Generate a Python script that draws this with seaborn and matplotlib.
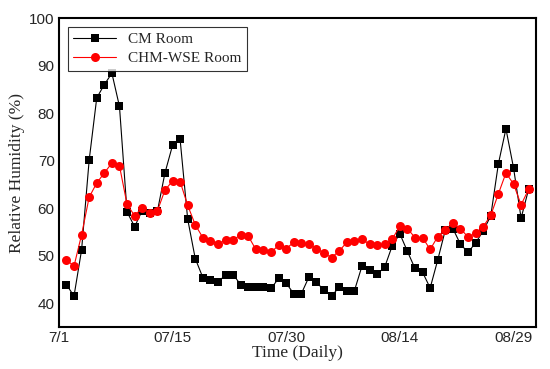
import numpy as np
import pandas as pd
import matplotlib
matplotlib.use("Agg")
import matplotlib.pyplot as plt
import seaborn as sns
from matplotlib.ticker import MultipleLocator

days = list(range(1, 63))
cm_room = [43.9, 41.5, 51.2, 70.1, 83.2, 86.0, 88.4, 81.4, 59.2, 56.1,
           59.5, 59.0, 59.3, 67.4, 73.2, 74.5, 57.7, 49.4, 45.4, 44.9,
           44.4, 46.0, 46.0, 43.9, 43.4, 43.4, 43.3, 43.1, 45.2, 44.2,
           42.0, 42.0, 45.5, 44.4, 42.7, 41.5, 43.4, 42.6, 42.6, 47.8,
           47.0, 46.1, 47.6, 52.1, 54.6, 50.9, 47.3, 46.5, 43.2, 49.1,
           55.4, 55.7, 52.4, 50.7, 52.7, 55.2, 58.4, 69.3, 76.7, 68.5,
           57.9, 64.0]
chm_room = [49.1, 47.8, 54.4, 62.3, 65.3, 67.4, 69.5, 68.9, 60.8, 58.4,
            60.1, 58.9, 59.4, 63.8, 65.7, 65.6, 60.6, 56.5, 53.8, 53.1,
            52.4, 53.3, 53.3, 54.4, 54.1, 51.3, 51.1, 50.7, 52.2, 51.5,
            52.8, 52.6, 52.4, 51.5, 50.5, 49.6, 51.0, 52.8, 53.1, 53.5,
            52.4, 52.3, 52.4, 53.5, 56.2, 55.7, 53.8, 53.8, 51.3, 54.0,
            55.5, 56.8, 55.7, 53.9, 54.7, 56.1, 58.5, 63.0, 67.4, 65.1,
            60.7, 64.0]
tick_pos = [0, 15, 30, 45, 60]
tick_labels = ["7/1", "07/15", "07/30", "08/14", "08/29"]
series_names = ["CM Room", "CHM-WSE Room"]

sns.set_style("white")
plt.rcParams["font.family"] = ["Liberation Serif", "DejaVu Serif"]

fig = plt.figure(figsize=(5.5, 3.69), dpi=100)
ax = fig.add_axes([0.107, 0.114, 0.868, 0.837])

df1 = pd.DataFrame({"day": days, "rh": cm_room})
df2 = pd.DataFrame({"day": days, "rh": chm_room})
sns.lineplot(data=df1, x="day", y="rh", ax=ax, color="black", marker="s",
             markersize=5.5, markeredgewidth=0, linewidth=0.8, label=series_names[0])
sns.lineplot(data=df2, x="day", y="rh", ax=ax, color="#ff0000", marker="o",
             markersize=6.5, markeredgewidth=0, linewidth=0.8, label=series_names[1])

ax.set_xlim(0, 63)
ax.set_ylim(35, 100)
ax.set_xticks(tick_pos)
ax.set_xticklabels(tick_labels)
ax.xaxis.set_minor_locator(MultipleLocator(7.5))
ax.set_yticks([40, 50, 60, 70, 80, 90, 100])
ax.yaxis.set_minor_locator(MultipleLocator(5))
ax.tick_params(axis="both", which="major", direction="in", length=4, width=1.2,
               labelsize=11, pad=3)
ax.tick_params(axis="both", which="minor", direction="in", length=3, width=1.2)
for lab in ax.get_xticklabels() + ax.get_yticklabels():
    lab.set_family(["Liberation Sans", "DejaVu Sans"])
for s in ax.spines.values():
    s.set_linewidth(1.5)
    s.set_color("black")

ax.set_xlabel("Time (Daily)", fontsize=12.5, labelpad=0)
ax.set_ylabel("Relative Humidity (%)", fontsize=12.5, labelpad=3)

leg = ax.legend(loc="upper left", fontsize=11, frameon=True, fancybox=False,
                edgecolor="black", borderaxespad=0.6, handlelength=2.8,
                borderpad=0.35, labelspacing=0.35)
leg.get_frame().set_linewidth(0.8)

fig.savefig("out.png", dpi=100)
